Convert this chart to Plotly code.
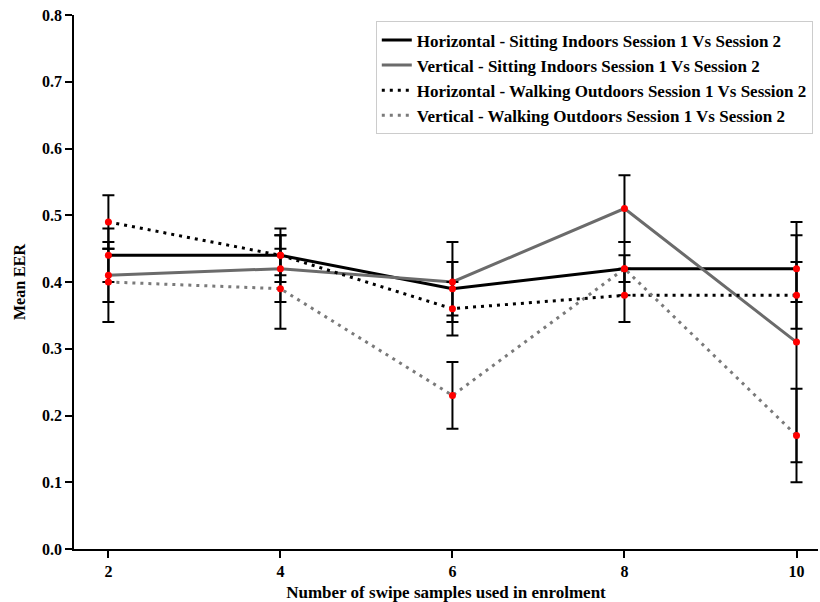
import plotly.graph_objects as go

samples = [2, 4, 6, 8, 10]

h_sit = [0.44, 0.44, 0.39, 0.42, 0.42]
h_sit_err = [0.04, 0.03, 0.04, 0.02, 0.05]

v_sit = [0.41, 0.42, 0.40, 0.51, 0.31]
v_sit_err = [0.04, 0.05, 0.06, 0.05, 0.18]

h_walk = [0.49, 0.44, 0.36, 0.38, 0.38]
h_walk_err = [0.04, 0.04, 0.04, 0.04, 0.05]

v_walk = [0.40, 0.39, 0.23, 0.42, 0.17]
v_walk_err = [0.06, 0.06, 0.05, 0.04, 0.07]

names = [
    "Horizontal - Sitting Indoors Session 1 Vs Session 2",
    "Vertical - Sitting Indoors Session 1 Vs Session 2",
    "Horizontal - Walking Outdoors Session 1 Vs Session 2",
    "Vertical - Walking Outdoors Session 1 Vs Session 2",
]

series = [
    (h_sit, h_sit_err, "black", "solid"),
    (v_sit, v_sit_err, "#6b6b6b", "solid"),
    (h_walk, h_walk_err, "black", "3px,5px"),
    (v_walk, v_walk_err, "#7a7a7a", "3px,5px"),
]

fig = go.Figure()
for (vals, errs, color, dash), name in zip(series, names):
    fig.add_trace(go.Scatter(
        x=samples, y=vals, name=f"<b>{name}</b>", mode="lines",
        line=dict(color=color, width=3, dash=dash),
        error_y=dict(type="data", array=errs, visible=True,
                     color="black", thickness=2, width=6),
    ))

for vals, _, _, _ in series:
    fig.add_trace(go.Scatter(
        x=samples, y=vals, mode="markers", showlegend=False,
        marker=dict(color="red", size=7), hoverinfo="skip",
    ))

font_family = "Liberation Serif"
fig.update_layout(
    width=820, height=602,
    margin=dict(l=74, r=2, t=15, b=53),
    plot_bgcolor="white", paper_bgcolor="white",
    font=dict(family=font_family, color="black"),
    showlegend=True,
    legend=dict(
        x=0.993, y=0.988, xanchor="right", yanchor="top",
        bgcolor="rgba(255,255,255,0.9)", bordercolor="#cccccc", borderwidth=1,
        font=dict(family=font_family, size=17, color="black"),
        tracegroupgap=0,
    ),
)
fig.update_xaxes(
    range=[1.6, 10.25], tickvals=samples, ticktext=[f"<b>{s}</b>" for s in samples],
    showgrid=False, zeroline=False, showline=True, linecolor="black", linewidth=1.5,
    ticks="outside", ticklen=7, tickwidth=1.5, tickcolor="black",
    tickfont=dict(family=font_family, size=16, color="black"),
    title=dict(text="<b>Number of swipe samples used in enrolment</b>",
               font=dict(family=font_family, size=17, color="black"), standoff=8),
)
yt = [0.0, 0.1, 0.2, 0.3, 0.4, 0.5, 0.6, 0.7, 0.8]
fig.update_yaxes(
    range=[0, 0.8], tickvals=yt, ticktext=[f"<b>{v:.1f}</b>" for v in yt],
    showgrid=False, zeroline=False, showline=True, linecolor="black", linewidth=1.5,
    ticks="outside", ticklen=7, tickwidth=1.5, tickcolor="black",
    tickfont=dict(family=font_family, size=16, color="black"),
    title=dict(text="<b>Mean EER</b>",
               font=dict(family=font_family, size=16, color="black"), standoff=12),
)

fig.write_html("out.html")
